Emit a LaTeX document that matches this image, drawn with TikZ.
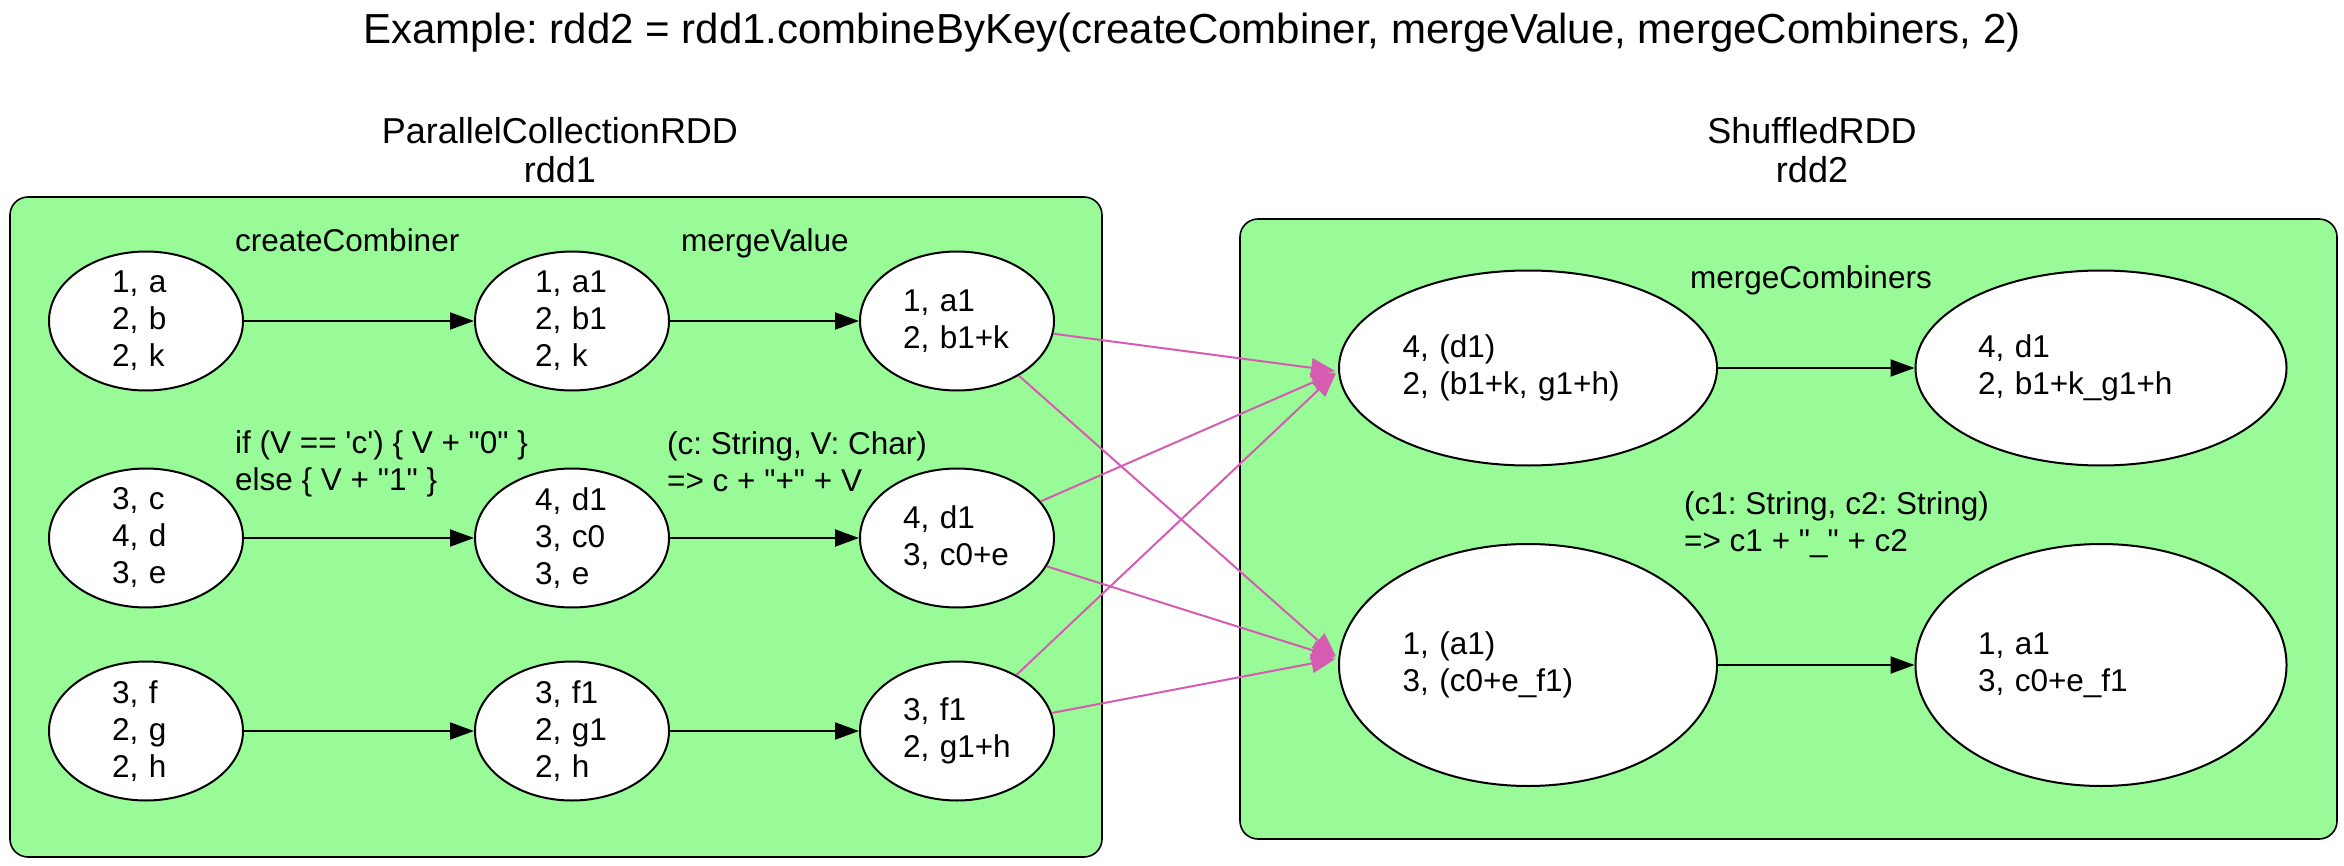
\documentclass[tikz,border=0pt]{standalone}
\usepackage{fontspec}
\setmainfont{Liberation Sans}[Ligatures=TeXOff]
\usetikzlibrary{arrows.meta,shapes.geometric}
\definecolor{clgreen}{RGB}{152,251,152}
\definecolor{edgepink}{RGB}{214,92,178}
\frenchspacing
\begin{document}
\begin{tikzpicture}[x=1pt,y=-1pt,
  txt/.style={font=\fontsize{31.5}{37}\selectfont, inner sep=0pt},
  cluster/.style={draw=black, line width=1.6pt, fill=clgreen, rounded corners=18pt},
  ell/.style={ellipse, draw=black, line width=2pt, fill=white, inner xsep=0pt, inner ysep=-20pt, align=left, font=\fontsize{31.5}{37}\selectfont},
  sm/.style={ell, minimum width=194pt, minimum height=139pt},
  bigA/.style={ell, minimum width=378pt, text width=251pt},
  bigB/.style={ell, minimum width=371pt, text width=246pt},
  flow/.style={-{Triangle[length=24pt,width=17pt]}, line width=2pt, draw=black},
  shuf/.style={-{Triangle[length=24pt,width=19pt]}, line width=2pt, draw=edgepink, shorten >=3pt},
]
\useasboundingbox (0,0) rectangle (2344,866);

% title and cluster labels
\node[anchor=base, inner sep=0pt, font=\fontsize{42}{48}\selectfont] (title) at (1192,44)
  {Example: rdd2 = rdd1.combineByKey(createCombiner, mergeValue, mergeCombiners, 2)};
\node[align=center, inner sep=0pt, font=\fontsize{36}{39}\selectfont] (lbl1) at (560,150.4) {ParallelCollectionRDD\\rdd1};
\node[align=center, inner sep=0pt, font=\fontsize{36}{39}\selectfont] (lbl2) at (1812,150.4) {ShuffledRDD\\rdd2};

% clusters
\path[cluster] (10,197) rectangle (1102,857);
\path[cluster] (1240,219) rectangle (2337,839);

% cluster texts
\node[txt, anchor=base west] (cc) at (235,252) {createCombiner};
\node[txt, anchor=base west] (mv) at (681,252) {mergeValue};
\node[txt, anchor=west, align=left] (cf) at (235,464) {if (V == 'c') \{ V + "0" \}\\else \{ V + "1" \}};
\node[txt, anchor=west, align=left] (mf) at (667,462) {(c: String, V: Char)\\=> c + "+" + V};
\node[txt, anchor=base west] (mc) at (1690,289) {mergeCombiners};
\node[txt, anchor=west, align=left] (mcf) at (1684,524.5) {(c1: String, c2: String)\\=> c1 + "\_" + c2};

% left nodes
\node[sm, text width=68pt] (n11) at (146,321) {1, a\\2, b\\2, k};
\node[sm, text width=74pt] (n12) at (572,321) {1, a1\\2, b1\\2, k};
\node[sm, text width=108pt] (n13) at (957,321) {1, a1\\2, b1+k};
\node[sm, text width=68pt] (n21) at (146,538) {3, c\\4, d\\3, e};
\node[sm, text width=74pt] (n22) at (572,538) {4, d1\\3, c0\\3, e};
\node[sm, text width=108pt] (n23) at (957,538) {4, d1\\3, c0+e};
\node[sm, text width=68pt] (n31) at (146,731) {3, f\\2, g\\2, h};
\node[sm, text width=74pt] (n32) at (572,731) {3, f1\\2, g1\\2, h};
\node[sm, text width=108pt] (n33) at (957,731) {3, f1\\2, g1+h};

% right nodes
\node[bigA, minimum height=195pt] (R1) at (1528,368) {4, (d1)\\2, (b1+k, g1+h)};
\node[bigA, minimum height=242pt] (R2) at (1528,665) {1, (a1)\\3, (c0+e\_f1)};
\node[bigB, minimum height=195pt] (R3) at (2101,368) {4, d1\\2, b1+k\_g1+h};
\node[bigB, minimum height=242pt] (R4) at (2101,665) {1, a1\\3, c0+e\_f1};

% black edges
\draw[flow] (n11) -- (n12);
\draw[flow] (n12) -- (n13);
\draw[flow] (n21) -- (n22);
\draw[flow] (n22) -- (n23);
\draw[flow] (n31) -- (n32);
\draw[flow] (n32) -- (n33);
\draw[flow] (R1) -- (R3);
\draw[flow] (R2) -- (R4);

% shuffle edges
\draw[shuf] (n13) -- (R1.181);
\draw[shuf] (n13) -- (R2.178);
\draw[shuf] (n23) -- (R1.181);
\draw[shuf] (n23) -- (R2.178);
\draw[shuf] (n33) -- (R1.181);
\draw[shuf] (n33) -- (R2.178);
\end{tikzpicture}
\end{document}
